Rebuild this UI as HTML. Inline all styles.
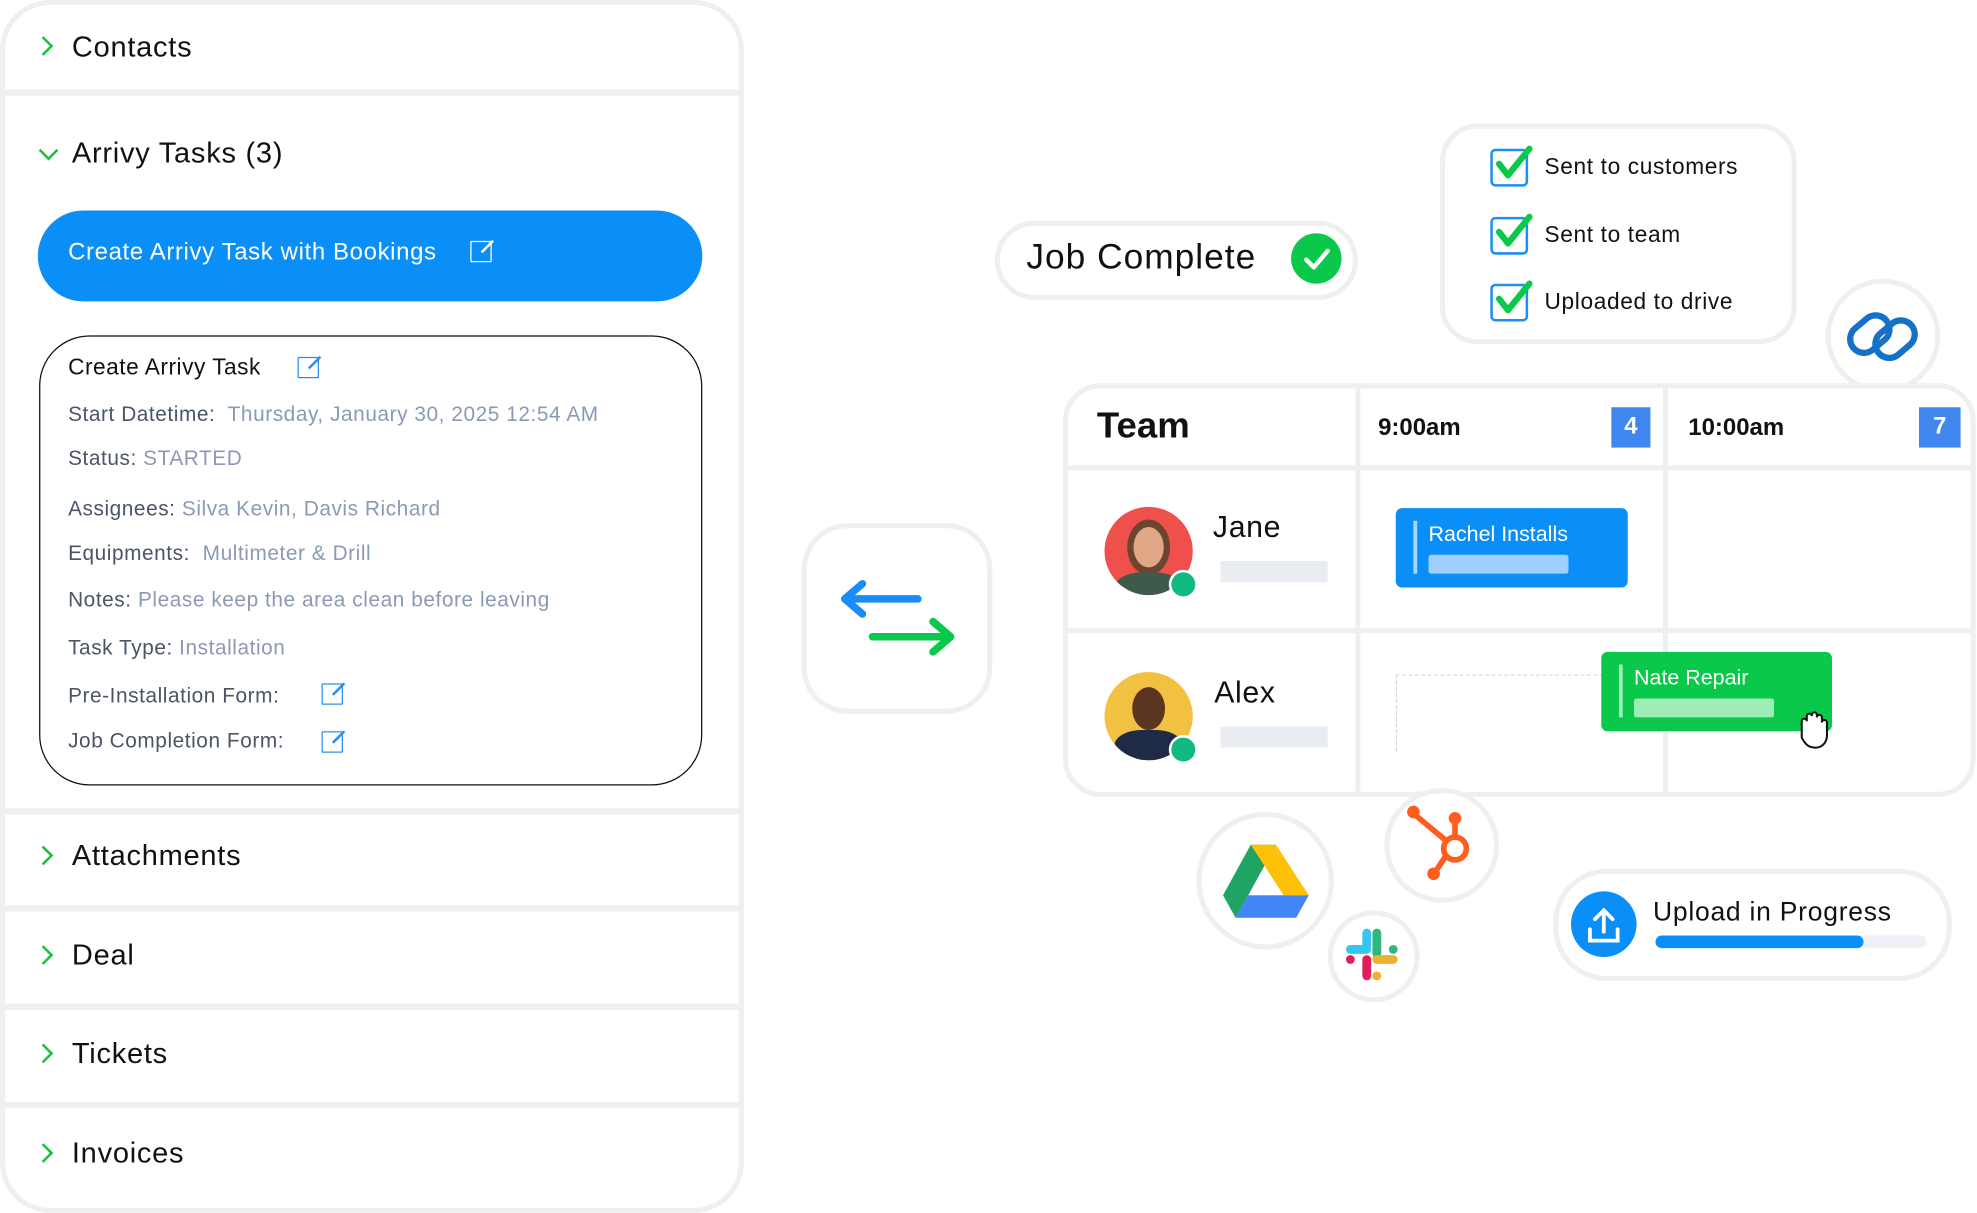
<!DOCTYPE html>
<html><head><meta charset="utf-8"><style>
html,body{margin:0;padding:0;background:#fff;overflow:hidden}
body{width:1977px;height:1213px}
#w{position:absolute;left:0;top:0;width:1568px;height:962px;transform:scale(1.26084);transform-origin:0 0;font-family:"Liberation Sans",sans-serif;color:#111}
.a{position:absolute}
.t{position:absolute;white-space:nowrap}
.sep{position:absolute;left:4px;width:582px;height:5px;background:#eeefef}
.hd{position:absolute;left:57px;font-size:23px;color:#111;letter-spacing:0.6px}
.chev{position:absolute;left:31px;width:9px;height:9px;border-right:2.6px solid #18c23a;border-bottom:2.6px solid #18c23a;transform:rotate(-45deg)}
.lab{position:absolute;left:54px;font-size:16.5px;color:#4a5566;letter-spacing:0.45px;white-space:nowrap}
.lab span{color:#8a9ab5}
.ext{position:absolute;width:15px;height:15px;border:1.6px solid #2a8ff5;border-radius:1px}
.ext:after{content:"";position:absolute;right:-2px;top:-2px;width:13px;height:1.6px;background:#2a8ff5;transform:rotate(-45deg);transform-origin:right}
.ext.w{border-color:#fff}
.ext.w:after{background:#fff}
.box{position:absolute;background:#fff;border:4px solid #eeefef}
.cb{position:absolute;left:1182px;width:26px;height:26px;border:2.5px solid #1e8ef5;border-radius:4px}
.ct{position:absolute;left:1225px;font-size:18px;color:#111;letter-spacing:0.5px}
</style></head><body><div id="w">
<div class="box" style="left:0;top:0;width:582px;height:954px;border-radius:40px"></div>
<div class="sep" style="top:71px"></div>
<div class="sep" style="top:641px"></div>
<div class="sep" style="top:718px"></div>
<div class="sep" style="top:796px"></div>
<div class="sep" style="top:874px"></div>
<div class="chev" style="top:31px;left:29px"></div><div class="hd" style="top:24px">Contacts</div>
<div class="chev" style="top:114px;left:33px;transform:rotate(45deg)"></div><div class="hd" style="top:108px">Arrivy Tasks (3)</div>
<div class="a" style="left:30px;top:167px;width:527px;height:72px;background:#0a8ff9;border-radius:36px"></div>
<div class="t" style="left:54px;top:190px;font-size:19px;color:#fff;letter-spacing:0.5px">Create Arrivy Task with Bookings</div>
<div class="ext w" style="left:373px;top:191px"></div>
<div class="a" style="left:31px;top:266px;width:524px;height:355px;border:1.5px solid #111;border-radius:40px"></div>
<div class="t" style="left:54px;top:281px;font-size:18px;color:#111;letter-spacing:0.4px">Create Arrivy Task</div>
<div class="ext" style="left:236px;top:283px"></div>
<div class="lab" style="top:320px">Start Datetime:&nbsp; <span>Thursday, January 30, 2025 12:54 AM</span></div>
<div class="lab" style="top:355px">Status: <span>STARTED</span></div>
<div class="lab" style="top:395px">Assignees:&nbsp;<span>Silva Kevin, Davis Richard</span></div>
<div class="lab" style="top:430px">Equipments:&nbsp; <span>Multimeter &amp; Drill</span></div>
<div class="lab" style="top:467px">Notes: <span>Please keep the area clean before leaving</span></div>
<div class="lab" style="top:505px">Task Type: <span>Installation</span></div>
<div class="lab" style="top:543px">Pre-Installation Form:</div>
<div class="ext" style="left:255px;top:542px"></div>
<div class="lab" style="top:579px">Job Completion Form:</div>
<div class="ext" style="left:255px;top:580px"></div>
<div class="chev" style="top:673px;left:29px"></div><div class="hd" style="top:665px">Attachments</div>
<div class="chev" style="top:752px;left:29px"></div><div class="hd" style="top:744px">Deal</div>
<div class="chev" style="top:830px;left:29px"></div><div class="hd" style="top:822px">Tickets</div>
<div class="chev" style="top:909px;left:29px"></div><div class="hd" style="top:901px">Invoices</div>

<div class="box" style="left:636px;top:415px;width:143px;height:143px;border-radius:36px"></div>
<svg class="a" style="left:660px;top:455px" width="100" height="70"><path d="M68 20H12M24 8 10 20 24 32" stroke="#1a8cf7" stroke-width="6" fill="none" stroke-linecap="round" stroke-linejoin="round"/><path d="M32 50H92M80 38 94 50 80 62" stroke="#0ac94a" stroke-width="6" fill="none" stroke-linecap="round" stroke-linejoin="round"/></svg>

<div class="box" style="left:789px;top:175px;width:280px;height:55px;border-radius:32px"></div>
<div class="t" style="left:814px;top:188px;font-size:28px;color:#111;letter-spacing:0.8px">Job Complete</div>
<div class="a" style="left:1024px;top:185px;width:40px;height:40px;border-radius:50%;background:#0ac94a"></div>
<svg class="a" style="left:1024px;top:185px" width="40" height="40"><path d="M12 21l6 6 11-13" stroke="#fff" stroke-width="3.5" fill="none" stroke-linecap="round" stroke-linejoin="round"/></svg>

<div class="box" style="left:1142px;top:98px;width:275px;height:167px;border-radius:30px"></div>
<div class="cb" style="top:118px"></div><div class="ct" style="top:122px">Sent to customers</div>
<div class="cb" style="top:172px"></div><div class="ct" style="top:176px">Sent to team</div>
<div class="cb" style="top:225px"></div><div class="ct" style="top:229px">Uploaded to drive</div>
<svg class="a" style="left:1182px;top:110px" width="40" height="150"><g stroke="#0ac94a" stroke-width="5" fill="none" stroke-linecap="round" stroke-linejoin="round"><path d="M7 20l7 9L31 8"/><path d="M7 74l7 9L31 62"/><path d="M7 127l7 9L31 115"/></g></svg>

<div class="box" style="left:1448px;top:221px;width:83px;height:83px;border-radius:50%"></div>
<svg class="a" style="left:1462px;top:244px" width="62" height="46"><g stroke="#1570c7" stroke-width="5" fill="none" stroke-linecap="round"><rect x="4" y="10" width="34" height="22" rx="11" transform="rotate(-40 21 21)"/><rect x="24" y="14" width="34" height="22" rx="11" transform="rotate(-40 41 25)"/></g></svg>

<div class="box" style="left:843px;top:304px;width:716px;height:320px;border-radius:30px"></div>
<div class="a" style="left:1075px;top:306px;width:4px;height:324px;background:#eeefef"></div>
<div class="a" style="left:1319px;top:306px;width:4px;height:324px;background:#eeefef"></div>
<div class="a" style="left:847px;top:369px;width:717px;height:4px;background:#eeefef"></div>
<div class="a" style="left:847px;top:498px;width:717px;height:4px;background:#eeefef"></div>
<div class="t" style="left:870px;top:322px;font-size:29px;font-weight:bold;color:#111">Team</div>
<div class="t" style="left:1093px;top:329px;font-size:19px;font-weight:bold;color:#111">9:00am</div>
<div class="a" style="left:1278px;top:323px;width:31px;height:32px;background:#3f87ee;color:#fff;font-size:19px;font-weight:bold;text-align:center;line-height:32px">4</div>
<div class="t" style="left:1339px;top:329px;font-size:19px;font-weight:bold;color:#111">10:00am</div>
<div class="a" style="left:1522px;top:323px;width:33px;height:32px;background:#3f87ee;color:#fff;font-size:19px;font-weight:bold;text-align:center;line-height:32px">7</div>
<div class="a" style="left:876px;top:402px;width:70px;height:70px;border-radius:50%;background:#f0504c;overflow:hidden"><div class="a" style="left:18px;top:10px;width:34px;height:44px;border-radius:50%;background:#6b4532"></div><div class="a" style="left:23px;top:16px;width:24px;height:32px;border-radius:50%;background:#e0a886"></div><div class="a" style="left:8px;top:52px;width:54px;height:30px;border-radius:40% 40% 0 0;background:#3e5a4a"></div></div>
<div class="a" style="left:927px;top:452px;width:19px;height:19px;border-radius:50%;background:#10b981;border:2px solid #fff"></div>
<div class="t" style="left:962px;top:405px;font-size:24px;color:#111;letter-spacing:0.5px">Jane</div>
<div class="a" style="left:968px;top:445px;width:85px;height:17px;background:#e9edf1"></div>
<div class="a" style="left:1107px;top:403px;width:184px;height:63px;background:#0a8ff9;border-radius:5px"></div>
<div class="a" style="left:1121px;top:413px;width:3px;height:42px;background:#a9d6ff"></div>
<div class="t" style="left:1133px;top:414px;font-size:17px;color:#fff">Rachel Installs</div>
<div class="a" style="left:1133px;top:440px;width:111px;height:15px;background:#9fd0ff;border-radius:2px"></div>
<div class="a" style="left:876px;top:533px;width:70px;height:70px;border-radius:50%;background:#f2c142;overflow:hidden"><div class="a" style="left:22px;top:12px;width:26px;height:34px;border-radius:50%;background:#5a3522"></div><div class="a" style="left:8px;top:46px;width:54px;height:30px;border-radius:40% 40% 0 0;background:#1f2a44"></div></div>
<div class="a" style="left:927px;top:583px;width:19px;height:19px;border-radius:50%;background:#10b981;border:2px solid #fff"></div>
<div class="t" style="left:963px;top:536px;font-size:24px;color:#111;letter-spacing:0.5px">Alex</div>
<div class="a" style="left:968px;top:576px;width:85px;height:17px;background:#e9edf1"></div>
<div class="a" style="left:1107px;top:535px;width:184px;height:60px;border-top:1px dashed #bfe8d0;border-left:1px dashed #d0d0d0"></div>
<div class="a" style="left:1270px;top:517px;width:183px;height:63px;background:#0ac94a;border-radius:5px"></div>
<div class="a" style="left:1284px;top:527px;width:3px;height:42px;background:#9eecb8"></div>
<div class="t" style="left:1296px;top:528px;font-size:17px;color:#fff">Nate Repair</div>
<div class="a" style="left:1296px;top:554px;width:111px;height:15px;background:#9eecb8;border-radius:2px"></div>
<svg class="a" style="left:1424px;top:562px" width="28" height="34"><path d="M5 18V10a2 2 0 0 1 4 0v-4a2 2 0 0 1 4 0v-1a2 2 0 0 1 4 0v2a2 2 0 0 1 4 0v4a2 2 0 0 1 4 0v10c0 6-4 10-9 10s-8-2-11-8z" fill="#fff" stroke="#111" stroke-width="1.6"/></svg>

<div class="box" style="left:949px;top:644px;width:101px;height:101px;border-radius:50%"></div>
<svg class="a" style="left:970px;top:668px" width="68" height="60"><path d="M22 2h20L20 42 10 60 0 42z" fill="#1fa463"/><path d="M22 2h20l26 40H48z" fill="#ffc107"/><path d="M10 60h48l10-18H20z" fill="#4285f4"/></svg>
<div class="box" style="left:1098px;top:625px;width:83px;height:83px;border-radius:50%"></div>
<svg class="a" style="left:1110px;top:636px" width="66" height="66"><g stroke="#ff5c1f" stroke-width="4.5" fill="none" stroke-linecap="round"><circle cx="44" cy="37" r="9"/><path d="M12 10l24 20M44 28V16M36 44l-8 12"/></g><circle cx="11" cy="8" r="5" fill="#ff5c1f"/><circle cx="44" cy="13" r="5" fill="#ff5c1f"/><circle cx="27" cy="57" r="5" fill="#ff5c1f"/></svg>
<div class="box" style="left:1053px;top:722px;width:65px;height:65px;border-radius:50%"></div>
<svg class="a" style="left:1067px;top:736px" width="44" height="44"><g stroke-width="7" stroke-linecap="round"><path d="M17 4v10M4 17h13" stroke="#36c5f0"/><path d="M25 4v16M38 17h0" stroke="#2eb67d"/><path d="M38 25H25M25 38h0" stroke="#ecb22e"/><path d="M17 25v13M4 25h0" stroke="#e01e5a"/></g></svg>
<div class="box" style="left:1232px;top:689px;width:308px;height:81px;border-radius:42px"></div>
<div class="a" style="left:1246px;top:707px;width:52px;height:52px;border-radius:50%;background:#0a8ff9"></div>
<svg class="a" style="left:1246px;top:707px" width="52" height="52"><g stroke="#fff" stroke-width="3" fill="none" stroke-linecap="round"><path d="M26 32V15M19 22l7-7 7 7M15 30v9h22v-9"/></g></svg>
<div class="t" style="left:1311px;top:712px;font-size:21px;color:#111;letter-spacing:0.6px">Upload in Progress</div>
<div class="a" style="left:1313px;top:742px;width:215px;height:10px;background:#eef2f7;border-radius:5px"></div>
<div class="a" style="left:1313px;top:742px;width:165px;height:10px;background:#0a8ff9;border-radius:5px"></div>
</div></body></html>
